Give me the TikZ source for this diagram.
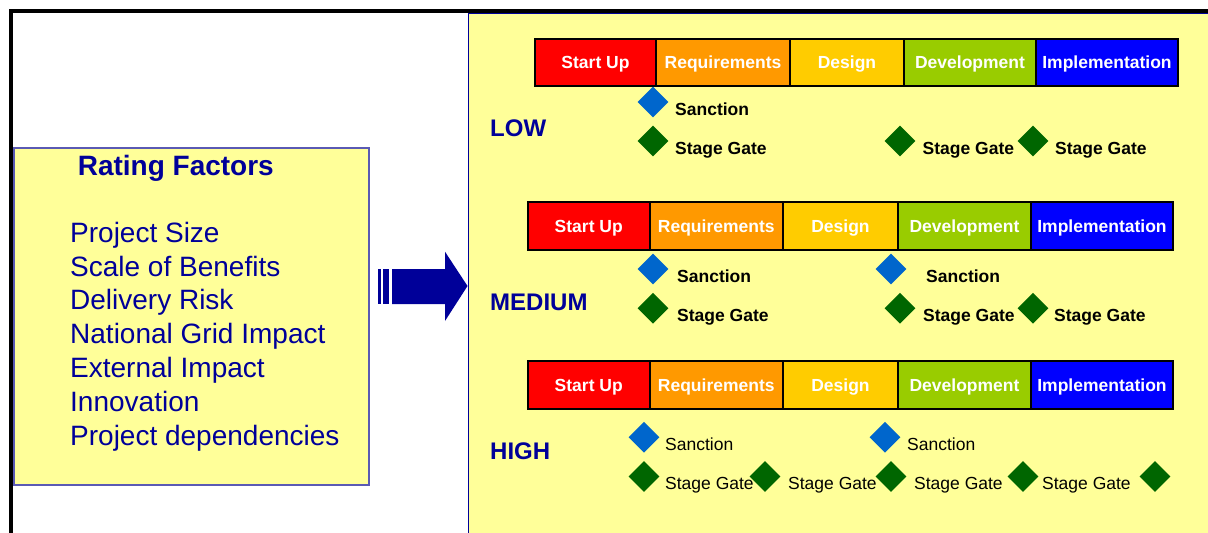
\documentclass[tikz,border=0pt]{standalone}
\usepackage{fontspec}
\setmainfont{Liberation Sans}
\usetikzlibrary{shapes.geometric}

\definecolor{panelyellow}{HTML}{FFFF99}
\definecolor{navytext}{HTML}{000099}
\definecolor{boxline}{HTML}{5A5AB4}
\definecolor{phStart}{HTML}{FF0000}
\definecolor{phReq}{HTML}{FF9900}
\definecolor{phDesign}{HTML}{FFCC00}
\definecolor{phDev}{HTML}{99CC00}
\definecolor{phImpl}{HTML}{0000FF}
\definecolor{sanctionblue}{HTML}{0066CC}
\definecolor{gategreen}{HTML}{006600}

\tikzset{
  phase/.style={draw=black, line width=2pt, anchor=north west, inner sep=0pt,
    minimum height=47pt, text=white,
    font=\fontsize{17.5}{20}\selectfont\bfseries, text height=12.5pt, text depth=0pt},
  sanction/.style={diamond, fill=sanctionblue, inner sep=0pt, minimum width=31pt, minimum height=31pt},
  gate/.style={diamond, fill=gategreen, inner sep=0pt, minimum width=31pt, minimum height=31pt},
  mlabel/.style={anchor=base west, inner sep=0pt, text=black, font=\fontsize{17.5}{20}\selectfont\bfseries},
  mlabelplain/.style={anchor=base west, inner sep=0pt, text=black, font=\fontsize{17.5}{20}\selectfont},
  level/.style={anchor=base west, inner sep=0pt, text=navytext, font=\fontsize{24}{28}\selectfont\bfseries},
  factor/.style={anchor=base west, inner sep=0pt, text=navytext, font=\fontsize{28}{32}\selectfont},
}

\begin{document}
\begin{tikzpicture}[x=1pt, y=-1pt]
\useasboundingbox (0,0) rectangle (1208,533);
\clip (0,0) rectangle (1208,533);

% right-hand panel
\node[fill=panelyellow, draw=navytext, line width=1.2pt, anchor=north west,
      inner sep=0pt, minimum width=760pt, minimum height=540pt] (panel) at (467.5,12.5) {};

% outer frame
\draw[line width=4pt] (11,545) |- (1215,11);

% rating factors box
\node[fill=panelyellow, draw=boxline, line width=1.5pt, anchor=north west,
      inner sep=0pt, minimum width=355pt, minimum height=337pt] (factors) at (13,147) {};
\node[anchor=base, inner sep=0pt, text=navytext, font=\fontsize{28}{32}\selectfont\bfseries]
  (title) at (175.8,175) {Rating Factors};
\node[factor] (f1) at (70,242.2) {Project Size};
\node[factor] (f2) at (70,276.0) {Scale of Benefits};
\node[factor] (f3) at (70,309.8) {Delivery Risk};
\node[factor] (f4) at (70,343.6) {National Grid Impact};
\node[factor] (f5) at (70,377.4) {External Impact};
\node[factor] (f6) at (70,411.2) {Innovation};
\node[factor] (f7) at (70,445.0) {Project dependencies};

% block arrow from the factors to the panel
\fill[navytext] (378,269) rectangle (381,304);
\fill[navytext] (382.7,269) rectangle (388.7,304);
\fill[navytext] (392,269) -- (445,269) -- (445,251.7) -- (panel.west |- 0,286) -- (445,321) -- (445,304) -- (392,304) -- cycle;

% ---------- LOW ----------
\node[phase, fill=phStart,  minimum width=121pt] (l1) at (534,38)  {Start Up};
\node[phase, fill=phReq,    minimum width=134pt] (l2) at (655,38)  {Requirements};
\node[phase, fill=phDesign, minimum width=114pt] (l3) at (789,38)  {Design};
\node[phase, fill=phDev,    minimum width=132pt] (l4) at (903,38)  {Development};
\node[phase, fill=phImpl,   minimum width=142pt] (l5) at (1035,38) {Implementation};

\node[level] (low) at (490,136) {LOW};
\node[mlabel] (ls1t) at (675,115.3) {Sanction};
\node[mlabel] (lg1t) at (675,154) {Stage Gate};
\node[mlabel] (lg2t) at (922.5,154) {Stage Gate};
\node[mlabel] (lg3t) at (1055,154) {Stage Gate};
\node[sanction] (ls1) at (653,102) {};
\node[gate] (lg1) at (653,141) {};
\node[gate] (lg2) at (900,141) {};
\node[gate] (lg3) at (1033,141) {};

% ---------- MEDIUM ----------
\node[phase, fill=phStart,  minimum width=121.5pt, minimum height=48pt] (m1) at (527,201)   {Start Up};
\node[phase, fill=phReq,    minimum width=133.5pt, minimum height=48pt] (m2) at (648.5,201) {Requirements};
\node[phase, fill=phDesign, minimum width=115pt,   minimum height=48pt] (m3) at (782,201)   {Design};
\node[phase, fill=phDev,    minimum width=133pt,   minimum height=48pt] (m4) at (897,201)   {Development};
\node[phase, fill=phImpl,   minimum width=142pt,   minimum height=48pt] (m5) at (1030,201)  {Implementation};

\node[level] (medium) at (490,310) {MEDIUM};
\node[mlabel] (ms1t) at (677,282) {Sanction};
\node[mlabel] (ms2t) at (926,282) {Sanction};
\node[mlabel] (mg1t) at (677,321) {Stage Gate};
\node[mlabel] (mg2t) at (923,321) {Stage Gate};
\node[mlabel] (mg3t) at (1054,321) {Stage Gate};
\node[sanction] (ms1) at (653,269) {};
\node[sanction] (ms2) at (891,269) {};
\node[gate] (mg1) at (653,308.3) {};
\node[gate] (mg2) at (900,308.3) {};
\node[gate] (mg3) at (1033,308.3) {};

% ---------- HIGH ----------
\node[phase, fill=phStart,  minimum width=121.5pt, minimum height=48pt] (h1) at (527,360)   {Start Up};
\node[phase, fill=phReq,    minimum width=133.5pt, minimum height=48pt] (h2) at (648.5,360) {Requirements};
\node[phase, fill=phDesign, minimum width=115pt,   minimum height=48pt] (h3) at (782,360)   {Design};
\node[phase, fill=phDev,    minimum width=133pt,   minimum height=48pt] (h4) at (897,360)   {Development};
\node[phase, fill=phImpl,   minimum width=142pt,   minimum height=48pt] (h5) at (1030,360)  {Implementation};

\node[level] (high) at (490,459) {HIGH};
\node[mlabelplain] (hs1t) at (665,450.7) {Sanction};
\node[mlabelplain] (hs2t) at (907,450.7) {Sanction};
\node[mlabelplain] (hg1t) at (665,489) {Stage Gate};
\node[mlabelplain] (hg2t) at (788,489) {Stage Gate};
\node[mlabelplain] (hg3t) at (914,489) {Stage Gate};
\node[mlabelplain] (hg4t) at (1042,489) {Stage Gate};
\node[sanction] (hs1) at (644,437.2) {};
\node[sanction] (hs2) at (885,437.2) {};
\node[gate] (hg1) at (644,476.5) {};
\node[gate] (hg2) at (765,476.5) {};
\node[gate] (hg3) at (891,476.5) {};
\node[gate] (hg4) at (1023,476.5) {};
\node[gate] (hg5) at (1155,476.5) {};
\end{tikzpicture}
\end{document}
